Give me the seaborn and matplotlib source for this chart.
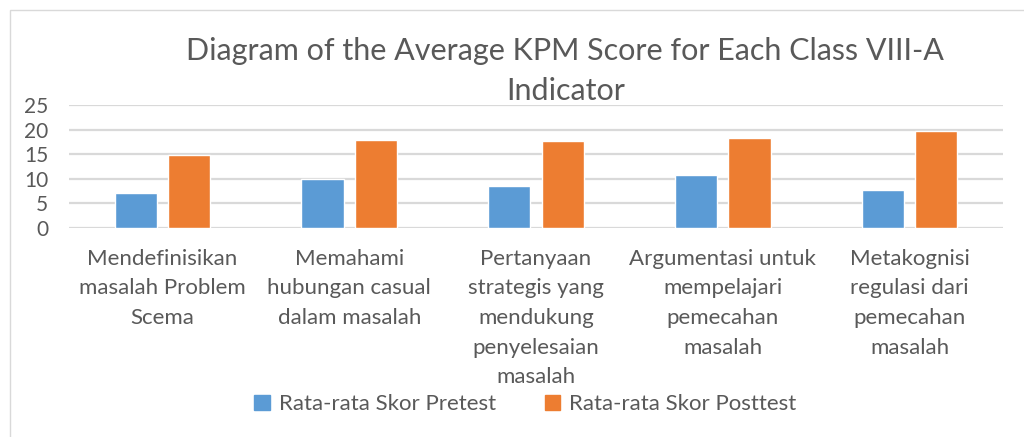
import matplotlib
matplotlib.use("Agg")
import matplotlib.pyplot as plt
import matplotlib.patches as mpatches
import pandas as pd
import seaborn as sns

# chart data
categories = [
    "Mendefinisikan\nmasalah Problem\nScema",
    "Memahami\nhubungan casual\ndalam masalah",
    "Pertanyaan\nstrategis yang\nmendukung\npenyelesaian\nmasalah",
    "Argumentasi untuk\nmempelajari\npemecahan\nmasalah",
    "Metakognisi\nregulasi dari\npemecahan\nmasalah",
]
series_names = ["Rata-rata Skor Pretest", "Rata-rata Skor Posttest"]
pretest = [7.1, 10.0, 8.5, 10.7, 7.7]
posttest = [14.8, 17.8, 17.6, 18.2, 19.7]
yticks = [0, 5, 10, 15, 20, 25]
title = "Diagram of the Average KPM Score for Each Class VIII-A\nIndicator"

BLUE = "#5B9BD5"
ORANGE = "#ED7D31"
GRID = "#D9D9D9"
TEXT = "#595959"

df = pd.DataFrame({
    "category": categories * 2,
    "series": [series_names[0]] * len(categories) + [series_names[1]] * len(categories),
    "value": pretest + posttest,
})

sns.set_style("white")
plt.rcParams["font.family"] = ["Lato", "DejaVu Sans"]

fig = plt.figure(figsize=(10.24, 4.37), dpi=100)
ax = fig.add_axes([69 / 1024, 1 - 228 / 437, (1003 - 69) / 1024, (228 - 105) / 437])

sns.barplot(
    data=df, x="category", y="value", hue="series",
    order=categories, hue_order=series_names,
    palette=[BLUE, ORANGE], width=0.572, gap=0.21,
    saturation=1, ax=ax, legend=False,
)

ax.set_ylim(0, 25)
ax.set_yticks(yticks)
ax.set_xlim(-0.5, len(categories) - 0.5)
ax.yaxis.grid(True, color=GRID, linewidth=1.6)
ax.set_axisbelow(True)
for s in ax.spines.values():
    s.set_visible(False)
ax.tick_params(axis="both", length=0, labelcolor=TEXT)
ax.tick_params(axis="y", pad=15, labelsize=15)
ax.tick_params(axis="x", pad=15, labelsize=16)
for lbl in ax.get_xticklabels():
    lbl.set_linespacing(1.6)
ax.set_xlabel("")
ax.set_ylabel("")

fig.text(0.552, 1 - 37 / 437, title, ha="center", va="top", fontsize=22,
         color=TEXT, linespacing=1.5)

handles = [mpatches.Patch(color=c, label=n) for c, n in zip([BLUE, ORANGE], series_names)]
fig.legend(handles=handles, loc="center", bbox_to_anchor=(0.513, 0.075), ncol=2,
           frameon=False, fontsize=16, labelcolor=TEXT, handlelength=0.7,
           handleheight=0.7, handletextpad=0.4, columnspacing=2.2)

# chart border
fig.patches.append(mpatches.Rectangle((10 / 1024, -0.1), 1.2, 1.1 - 10 / 437,
                                      transform=fig.transFigure, fill=False,
                                      edgecolor=GRID, linewidth=1.0))

fig.savefig("out.png", dpi=100, facecolor="white")
plt.close(fig)
